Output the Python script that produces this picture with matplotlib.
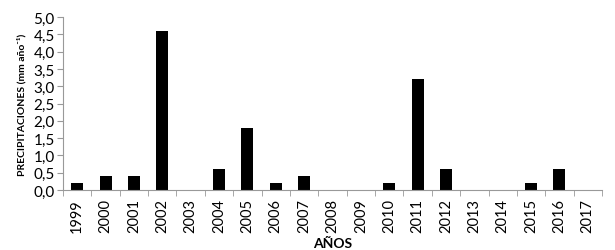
import matplotlib.pyplot as plt
import numpy as np

years = ['1999', '2000', '2001', '2002', '2003', '2004', '2005', '2006', '2007', '2008',
         '2009', '2010', '2011', '2012', '2013', '2014', '2015', '2016', '2017']
precip = [0.2, 0.4, 0.4, 4.6, 0.0, 0.6, 1.8, 0.2, 0.4, 0.0,
          0.0, 0.2, 3.2, 0.6, 0.0, 0.0, 0.2, 0.6, 0.0]
yticks = [0.0, 0.5, 1.0, 1.5, 2.0, 2.5, 3.0, 3.5, 4.0, 4.5, 5.0]

plt.rcParams['font.family'] = ['Lato', 'DejaVu Sans']

fig = plt.figure(figsize=(6.15, 2.51), dpi=100)
ax = fig.add_axes([63/615, 1 - 191/251, (602-63)/615, (191-18)/251])

x = np.arange(len(years))
ax.bar(x, precip, width=0.42, color='black')

ax.set_xlim(-0.5, len(years) - 0.5)
ax.set_ylim(0, 5)
ax.set_yticks(yticks)
ax.set_yticklabels([('%.1f' % v).replace('.', ',') for v in yticks], fontsize=11)
ax.set_xticks(x)
ax.set_xticklabels(years, rotation=90, fontsize=10.5)
ax.set_xticks(np.arange(-0.5, len(years)), minor=True)
ax.tick_params(axis='x', which='major', length=0, pad=6)
ax.tick_params(axis='x', which='minor', length=4, color='#999999')
ax.tick_params(axis='y', length=4, color='#999999', pad=2)

for s in ['top', 'right']:
    ax.spines[s].set_visible(False)
for s in ['left', 'bottom']:
    ax.spines[s].set_color('#999999')
    ax.spines[s].set_linewidth(0.8)

ax.set_ylabel('PRECIPITACIONES (mm año⁻¹)', fontsize=7.5, fontweight='bold', labelpad=5)
ax.set_xlabel('AÑOS', fontsize=10, fontweight='bold', labelpad=3)

fig.savefig('out.png', dpi=100)
